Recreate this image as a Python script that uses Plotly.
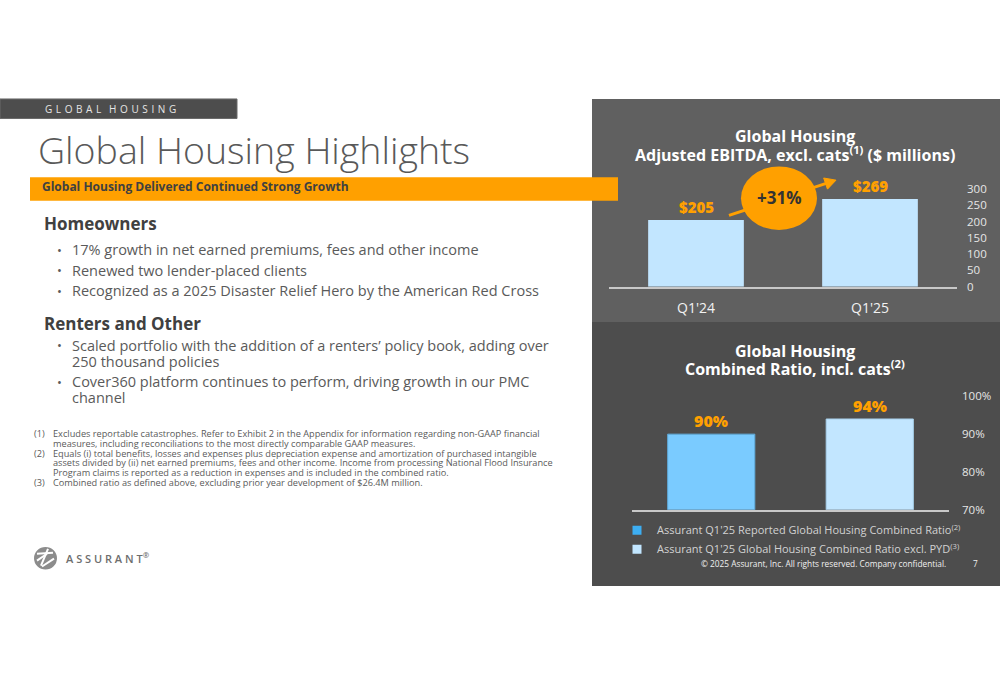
import math
import plotly.graph_objects as go

# ---------------- data ----------------
ebitda_periods = ["Q1'24", "Q1'25"]
ebitda_values = [205, 269]
ebitda_labels = ["$205", "$269"]
ebitda_growth = "+31%"
ebitda_ticks = [0, 50, 100, 150, 200, 250, 300]

ratio_series = ["Assurant Q1'25 Reported Global Housing Combined Ratio<sup>(2)</sup>",
                "Assurant Q1'25 Global Housing Combined Ratio excl. PYD<sup>(3)</sup>"]
ratio_values = [90, 94]
ratio_labels = ["90%", "94%"]
ratio_ticks = [70, 80, 90, 100]
ratio_tick_text = ["70%", "80%", "90%", "100%"]

homeowners_bullets = [
    ["17% growth in net earned premiums, fees and other income"],
    ["Renewed two lender-placed clients"],
    ["Recognized as a 2025 Disaster Relief Hero by the American Red Cross"],
]
renters_bullets = [
    ["Scaled portfolio with the addition of a renters\u2019 policy book, adding over", "250 thousand policies"],
    ["Cover360 platform continues to perform, driving growth in our PMC", "channel"],
]
footnotes = [
    ("(1)", ["Excludes reportable catastrophes. Refer to Exhibit 2 in the Appendix for information regarding non-GAAP financial",
             "measures, including reconciliations to the most directly comparable GAAP measures."]),
    ("(2)", ["Equals (i) total benefits, losses and expenses plus depreciation expense and amortization of purchased intangible",
             "assets divided by (ii) net earned premiums, fees and other income. Income from processing National Flood Insurance",
             "Program claims is reported as a reduction in expenses and is included in the combined ratio."]),
    ("(3)", ["Combined ratio as defined above, excluding prior year development of $26.4M million."]),
]

# ---------------- style ----------------
W, H = 1000, 685
FONT = "Open Sans"
ORANGE = "#FFA000"
LIGHT_BLUE = "#C2E6FF"
MID_BLUE = "#7ACBFF"
LEGEND_BLUE = "#3DAEF2"
TEXT_GRAY = "#5a5a5a"
HEAD_GRAY = "#404040"


def px(x):
    return x / W


def py(y):
    return 1 - y / H


def spaced(word_list, gap="\u00a0\u200a", word_gap="\u00a0\u00a0\u00a0"):
    return word_gap.join(gap.join(list(w)) for w in word_list)


fig = go.Figure()

# top chart bars
fig.add_trace(go.Bar(
    x=ebitda_periods, y=ebitda_values, width=0.55,
    marker=dict(color=LIGHT_BLUE, line=dict(width=0)),
    xaxis="x", yaxis="y", showlegend=False, hoverinfo="skip"))

# bottom chart bars
bar_colors = [MID_BLUE, LIGHT_BLUE]
bar_lines = ["#5fa9d8", "#a7cfea"]
fig.add_trace(go.Bar(
    x=[0, 1], y=ratio_values, width=0.55,
    marker=dict(color=bar_colors, line=dict(width=1, color=bar_lines)),
    xaxis="x2", yaxis="y2", showlegend=False, hoverinfo="skip"))

# legend entries for bottom chart
for name, col in zip(ratio_series, [LEGEND_BLUE, LIGHT_BLUE]):
    fig.add_trace(go.Scatter(
        x=[None], y=[None], mode="markers", name=name,
        marker=dict(symbol="square", size=9, color=col),
        xaxis="x2", yaxis="y2"))

shapes = []
# right panels
shapes.append(dict(type="rect", xref="paper", yref="paper", x0=px(592), x1=px(1000), y0=py(321), y1=py(93),
                   fillcolor="#606060", line=dict(width=0), layer="below"))
shapes.append(dict(type="rect", xref="paper", yref="paper", x0=px(592), x1=px(1000), y0=py(591), y1=py(321),
                   fillcolor="#4d4d4d", line=dict(width=0), layer="below"))
# section tag bar
shapes.append(dict(type="rect", xref="paper", yref="paper", x0=px(0), x1=px(237), y0=py(113), y1=py(93),
                   fillcolor="#4d4d4d", line=dict(width=1, color="#6a6a6a"), layer="below"))
# orange banner
shapes.append(dict(type="rect", xref="paper", yref="paper", x0=px(30), x1=px(618), y0=py(197), y1=py(173),
                   fillcolor=ORANGE, line=dict(width=0), layer="below"))

# growth arrow (line + head), then the ellipse over it
ax0, ay0, ax1, ay1 = 729, 212, 836, 176
shapes.append(dict(type="line", xref="paper", yref="paper", x0=px(ax0), y0=py(ay0), x1=px(ax1 - 6), y1=py(ay1 + 2),
                   line=dict(color=ORANGE, width=3), layer="above"))
dx, dy = ax1 - ax0, ay1 - ay0
L = math.hypot(dx, dy)
ux, uy = dx / L, dy / L
nx, ny = -uy, ux
hl, hw = 11, 6
bx, by = ax1 - hl * ux, ay1 - hl * uy
p1 = (bx + hw * nx, by + hw * ny)
p2 = (bx - hw * nx, by - hw * ny)
path = "M {} {} L {} {} L {} {} Z".format(px(ax1), py(ay1), px(p1[0]), py(p1[1]), px(p2[0]), py(p2[1]))
shapes.append(dict(type="path", xref="paper", yref="paper", path=path, fillcolor=ORANGE,
                   line=dict(color=ORANGE, width=1), layer="above"))
shapes.append(dict(type="circle", xref="paper", yref="paper", x0=px(741), x1=px(817), y0=py(227), y1=py(162),
                   fillcolor=ORANGE, line=dict(width=0), layer="above"))

# logo
shapes.append(dict(type="circle", xref="paper", yref="paper", x0=px(34), x1=px(57), y0=py(574), y1=py(551),
                   fillcolor="#8c8c8c", line=dict(width=0), layer="above"))
for (a, b, c, d) in [(37, 558, 53, 557), (41, 570, 48, 553), (54, 563, 42, 571), (37, 565, 47, 558)]:
    shapes.append(dict(type="line", xref="paper", yref="paper", x0=px(a), y0=py(b), x1=px(c), y1=py(d),
                       line=dict(color="white", width=2), layer="above"))

annotations = []


def text(x, y, t, size, color, weight=400, xanchor="left", yanchor="middle", family=FONT):
    annotations.append(dict(xref="paper", yref="paper", x=px(x), y=py(y), text=t, showarrow=False,
                            xanchor=xanchor, yanchor=yanchor, borderpad=0,
                            font=dict(family=family, size=size, color=color, weight=weight)))


# left side text
text(44, 103, spaced(["GLOBAL", "HOUSING"]), 10, "#e6e6e6")
text(37, 145, "Global Housing Highlights", 37.5, "#595959", weight=300)
text(41, 183, "Global Housing Delivered Continued Strong Growth", 12, HEAD_GRAY, weight=700)
text(43, 220, "Homeowners", 17, HEAD_GRAY, weight=700)
text(43, 323, "Renters and Other", 17, HEAD_GRAY, weight=700)

y_positions_home = [247, 268, 289]
for yy, lines in zip(y_positions_home, homeowners_bullets):
    text(56, yy, "\u2022", 13, TEXT_GRAY)
    text(71, yy, lines[0], 14.5, TEXT_GRAY)
y_positions_rent = [345, 382]
for yy, lines in zip(y_positions_rent, renters_bullets):
    text(56, yy, "\u2022", 13, TEXT_GRAY)
    for i, ln in enumerate(lines):
        text(71, yy + 16 * i, ln, 14.5, TEXT_GRAY)

fy = 435
for tag, lines in footnotes:
    text(33, fy, tag, 9.2, TEXT_GRAY)
    for ln in lines:
        text(52, fy, ln, 9.2, TEXT_GRAY)
        fy += 10

text(65, 562, "A S S U R A N T<sup>®</sup>", 11, "#6e6e6e", weight=600)

# chart titles
text(795, 131, "Global Housing", 16, "white", weight=700, xanchor="center")
text(795, 149, "Adjusted EBITDA, excl. cats<sup>(1)</sup> ($ millions)", 16, "white", weight=700, xanchor="center")
text(795, 351, "Global Housing", 16, "white", weight=700, xanchor="center")
text(795, 368, "Combined Ratio, incl. cats<sup>(2)</sup>", 16, "white", weight=700, xanchor="center")

# growth text
text(779, 194, ebitda_growth, 17, "#333333", weight=700, xanchor="center")

# footer
text(947, 568, "\u00a9 2025 Assurant, Inc. All rights reserved. Company confidential.", 8.3, "#f0f0f0", xanchor="right")
text(975, 568, "7", 8.3, "#f0f0f0", xanchor="center")

# data labels through the axes
for cat, v, lab in zip(ebitda_periods, ebitda_values, ebitda_labels):
    annotations.append(dict(xref="x", yref="y", x=cat, y=v, yshift=13, text=lab, showarrow=False,
                            yanchor="middle", font=dict(family=FONT, size=15, color=ORANGE, weight=800)))
for i, (v, lab) in enumerate(zip(ratio_values, ratio_labels)):
    annotations.append(dict(xref="x2", yref="y2", x=i, y=v, yshift=13, text=lab, showarrow=False,
                            yanchor="middle", font=dict(family=FONT, size=16, color=ORANGE, weight=800)))

fig.update_layout(
    width=W, height=H, margin=dict(l=0, r=0, t=0, b=0),
    paper_bgcolor="white", plot_bgcolor="rgba(0,0,0,0)",
    font=dict(family=FONT),
    shapes=shapes, annotations=annotations,
    xaxis=dict(domain=[px(609), px(957)], range=[-0.5, 1.5], type="category",
               showline=True, linecolor="#c8c8c8", linewidth=1.5, showgrid=False, zeroline=False,
               ticks="", ticklabelstandoff=8, tickfont=dict(family=FONT, size=14, color="#f2f2f2"),
               anchor="y", fixedrange=True),
    yaxis=dict(domain=[py(285), py(185)], range=[0, 300], side="right", tickvals=ebitda_ticks,
               showgrid=False, zeroline=False, showline=False, ticks="", ticklabelstandoff=9,
               tickfont=dict(family=FONT, size=11.5, color="#e6e6e6"), anchor="x", fixedrange=True),
    xaxis2=dict(domain=[px(632), px(949)], range=[-0.5, 1.5], showticklabels=False,
                showline=True, linecolor="#c8c8c8", linewidth=1.5, showgrid=False, zeroline=False,
                ticks="", anchor="y2", fixedrange=True),
    yaxis2=dict(domain=[py(513), py(397)], range=[70, 100], side="right", tickmode="array",
                tickvals=ratio_ticks, ticktext=ratio_tick_text,
                showgrid=False, zeroline=False, showline=False, ticks="",
                ticklabelstandoff=12, tickfont=dict(family=FONT, size=11.5, color="#e6e6e6"),
                anchor="x2", fixedrange=True),
    legend=dict(x=px(617), y=py(519), xanchor="left", yanchor="top", bgcolor="rgba(0,0,0,0)",
                font=dict(family=FONT, size=11, color="#d2d2d2"), tracegroupgap=0,
                itemclick=False, itemdoubleclick=False),
    showlegend=True,
)

POST = (
    "var r=document.documentElement, b=document.body;"
    "r.style.cssText='margin:0;padding:0;overflow:hidden;width:1000px;height:685px;';"
    "b.style.cssText='margin:0;padding:0;overflow:hidden;width:1000px;height:685px;';"
    "var g=document.getElementById('{plot_id}');"
    "g.style.position='fixed';g.style.left='0px';g.style.top='0px';"
)

fig.write_html("out.html", config={"displayModeBar": False}, post_script=POST)
